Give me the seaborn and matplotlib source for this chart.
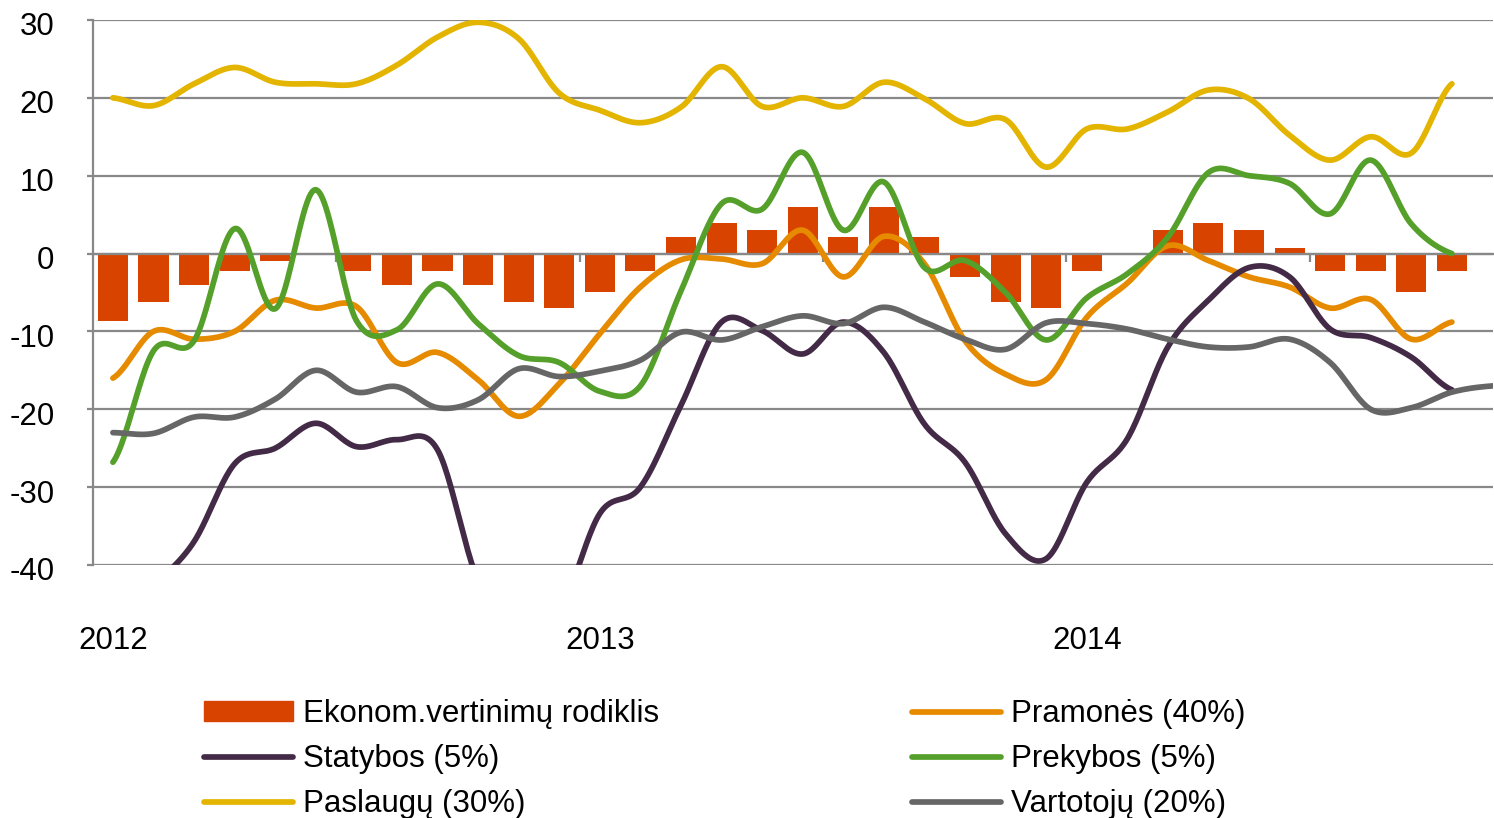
import numpy as np
import pandas as pd
import matplotlib
matplotlib.use('Agg')
import matplotlib.pyplot as plt
import matplotlib.transforms as mtransforms
import seaborn as sns
from matplotlib.lines import Line2D
from matplotlib.patches import Patch

# monthly values, Jan 2012 onwards
years = ['2012', '2013', '2014']

ekonom = [-8.7, -6.2, -4.0, -2.2, -0.9, 0.0, -2.2, -4.0, -2.2, -4.0, -6.2, -7.0,
          -4.9, -2.2, 2.1, 3.9, 3.0, 6.0, 2.1, 6.0, 2.1, -3.0, -6.2, -7.0,
          -2.2, 0.0, 3.0, 3.9, 3.0, 0.7, -2.2, -2.2, -4.9, -2.2]

pramones = [-16, -10, -11, -10, -6, -7, -6.8, -14, -12.7, -16.2, -20.9, -16.7,
            -10.3, -4.3, -0.8, -0.7, -1.3, 3.0, -3.0, 2.2, -1.3, -11.2, -15.5, -16.2,
            -8.2, -3.8, 1.0, -0.9, -3.0, -4.3, -7.0, -5.9, -11.0, -8.8]

statybos = [-50, -43, -37, -27, -25, -21.8, -24.8, -23.9, -25.2, -42, -48, -46,
            -33.4, -30, -19.5, -8.8, -9.9, -12.9, -8.8, -12.7, -21.9, -26.8, -36, -39.2,
            -29.4, -23.8, -12, -6, -1.8, -3, -9.7, -10.8, -13.3, -17.5]

prekybos = [-26.8, -12.5, -11.2, 3.2, -7.1, 8.2, -8.6, -9.8, -3.9, -9.0, -13.1, -14.0,
            -17.7, -17.0, -4.8, 6.4, 5.7, 13.0, 3.0, 9.2, -1.8, -0.9, -5.0, -11.1,
            -5.7, -2.6, 2.1, 10.4, 10.0, 9.0, 5.1, 12.0, 3.8, 0.0]

paslaugu = [20.0, 19.0, 21.8, 23.9, 22.0, 21.8, 21.8, 24.2, 27.8, 29.7, 27.6, 20.6,
            18.4, 16.8, 18.8, 24.0, 18.9, 20.0, 18.9, 22.0, 19.9, 16.7, 17.2, 11.1,
            16.0, 16.0, 18.2, 21.0, 19.9, 15.2, 12.0, 15.0, 12.9, 21.8]

vartotoju = [-23.0, -23.1, -21.0, -21.0, -18.7, -15.0, -17.8, -17.1, -19.8, -18.8, -14.8, -15.8,
             -15.1, -13.7, -10.1, -11.1, -9.4, -8.0, -9.0, -6.9, -8.8, -11.0, -12.3, -8.9,
             -9.0, -9.7, -11.0, -12.0, -12.0, -11.0, -14.0, -20.0, -19.8, -17.8, -17.0]

C_BAR = '#D84400'
C_PRAM = '#E68A00'
C_STAT = '#432A46'
C_PREK = '#55A02A'
C_PASL = '#E3B400'
C_VART = '#666666'
C_GRID = '#888888'
FS = 22.5
LW = 4.1


def smooth(values, steps=24):
    # excel-like smoothed line (catmull-rom through the points)
    y = np.asarray(values, dtype=float)
    p = np.concatenate([[y[0]], y, [y[-1]]])
    t = np.linspace(0, 1, steps, endpoint=False)
    xs, ys = [], []
    for i in range(len(y) - 1):
        p0, p1, p2, p3 = p[i], p[i + 1], p[i + 2], p[i + 3]
        seg = 0.5 * (2 * p1 + (p2 - p0) * t + (2 * p0 - 5 * p1 + 4 * p2 - p3) * t ** 2
                     + (3 * p1 - p0 - 3 * p2 + p3) * t ** 3)
        xs.append(i + t)
        ys.append(seg)
    xs.append([len(y) - 1])
    ys.append([y[-1]])
    return pd.DataFrame({'x': np.concatenate(xs), 'y': np.concatenate(ys)})


def main():
    sns.set_style('white')
    plt.rcParams['font.family'] = ['Liberation Sans', 'DejaVu Sans']
    plt.rcParams['text.color'] = 'black'
    plt.rcParams['ytick.labelcolor'] = 'black'

    fig = plt.figure(figsize=(14.94, 8.18), dpi=100)
    ax = fig.add_axes([0.062, 0.3093, 0.9375, 0.6663])

    bars_df = pd.DataFrame({'m': range(len(ekonom)), 'v': ekonom})
    sns.barplot(data=bars_df, x='m', y='v', color=C_BAR, saturation=1, width=0.74,
                linewidth=0, ax=ax, zorder=2)

    series = [
        ('Pramonės (40%)', pramones, C_PRAM),
        ('Statybos (5%)', statybos, C_STAT),
        ('Prekybos (5%)', prekybos, C_PREK),
        ('Paslaugų (30%)', paslaugu, C_PASL),
        ('Vartotojų (20%)', vartotoju, C_VART),
    ]
    for name, vals, col in series:
        d = smooth(vals)
        sns.lineplot(data=d, x='x', y='y', ax=ax, color=col, lw=LW, sort=False,
                     estimator=None, solid_capstyle='round', zorder=3)

    ax.set_xlim(-0.5, 34.02)
    ax.set_ylim(-40, 30)
    ax.set_yticks(range(-40, 31, 10))
    ax.set_yticklabels([str(v) for v in range(-40, 31, 10)], fontsize=FS, color='black')
    ax.yaxis.grid(True, color=C_GRID, lw=1.6, zorder=0)
    ax.xaxis.grid(False)
    ax.set_axisbelow(True)

    for s in ['top', 'right']:
        ax.spines[s].set_visible(False)
    ax.spines['left'].set_color(C_GRID)
    ax.spines['left'].set_linewidth(1.6)
    ax.spines['bottom'].set_position(('data', 0))
    ax.spines['bottom'].set_color(C_GRID)
    ax.spines['bottom'].set_linewidth(1.6)
    ax.spines['bottom'].set_zorder(2.5)

    ax.set_xticks([5.5, 11.5, 17.5, 23.5, 29.5])
    ax.set_xticklabels([])
    ax.tick_params(axis='x', direction='out', length=6, width=1.6, color=C_GRID, bottom=True)
    ax.tick_params(axis='y', direction='out', length=4.5, width=1.6, color=C_GRID,
                   left=True, pad=23)
    # excel puts the value labels a touch below their gridline
    shift = mtransforms.ScaledTranslation(0, -4 / 100, fig.dpi_scale_trans)
    for lab in ax.get_yticklabels():
        lab.set_transform(lab.get_transform() + shift)
    ax.set_xlabel('')
    ax.set_ylabel('')

    for k, yr in enumerate(years):
        ax.text(k * 12, -49.8, yr, ha='center', va='center', fontsize=FS, clip_on=False)

    def line_handle(c):
        return Line2D([], [], color=c, lw=LW, solid_capstyle='round')

    h1 = [Patch(color=C_BAR), line_handle(C_STAT), line_handle(C_PASL)]
    l1 = ['Ekonom.vertinimų rodiklis', 'Statybos (5%)', 'Paslaugų (30%)']
    h2 = [line_handle(C_PRAM), line_handle(C_PREK), line_handle(C_VART)]
    l2 = ['Pramonės (40%)', 'Prekybos (5%)', 'Vartotojų (20%)']

    opts = dict(loc='upper left', frameon=False, fontsize=FS, handlelength=2.85,
                handleheight=0.58, handletextpad=0.32, labelspacing=0.48,
                borderpad=0, borderaxespad=0)
    fig.legend(h1, l1, bbox_to_anchor=(204 / 1494, 1 - 699 / 818), **opts)
    fig.legend(h2, l2, bbox_to_anchor=(912 / 1494, 1 - 699 / 818), **opts)

    fig.savefig('out.png', dpi=100)


if __name__ == '__main__':
    main()
